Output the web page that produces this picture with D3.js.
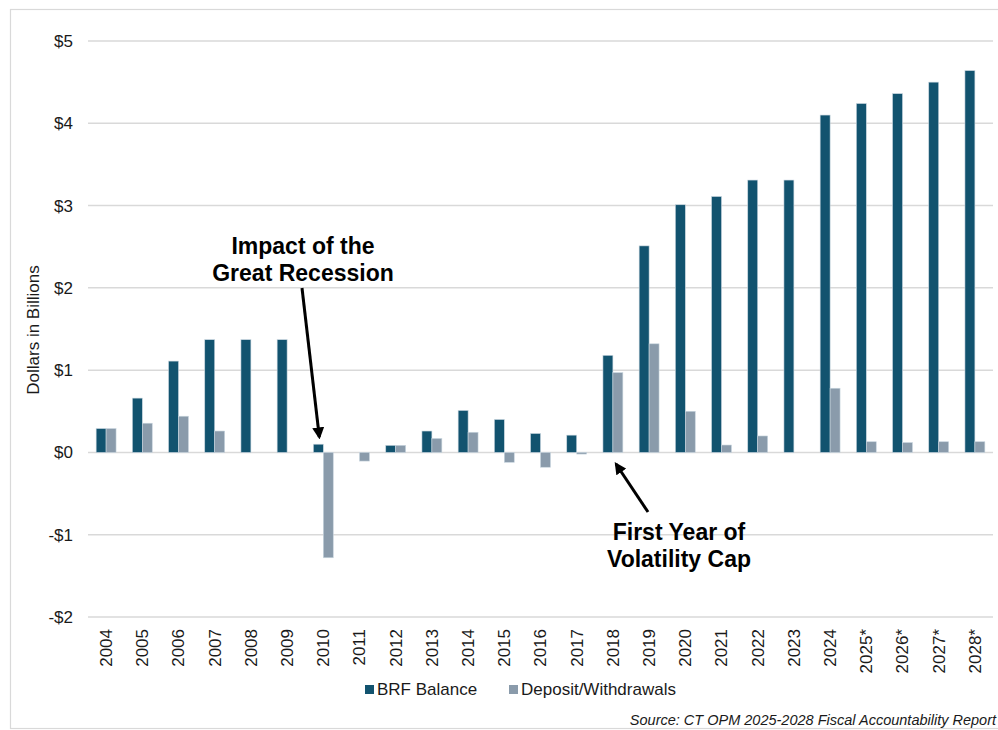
<!DOCTYPE html>
<html>
<head>
<meta charset="utf-8">
<script src="https://cdn.jsdelivr.net/npm/d3@7"></script>
<style>
  body { margin: 0; background: #fff; }
  svg { display: block; font-family: "Liberation Sans", Arial, sans-serif; }
</style>
</head>
<body>
<div id="chart"></div>
<script>
// Data (billions of dollars)
const years = ["2004", "2005", "2006", "2007", "2008", "2009", "2010", "2011", "2012", "2013",
  "2014", "2015", "2016", "2017", "2018", "2019", "2020", "2021", "2022", "2023", "2024",
  "2025*", "2026*", "2027*", "2028*"];
const brfBalance = [0.29, 0.66, 1.11, 1.37, 1.37, 1.37, 0.10, 0, 0.086, 0.26,
  0.51, 0.40, 0.23, 0.21, 1.18, 2.51, 3.01, 3.11, 3.31, 3.31, 4.10,
  4.24, 4.36, 4.50, 4.64];
const deposits = [0.29, 0.355, 0.44, 0.26, 0, 0, -1.28, -0.105, 0.086, 0.17,
  0.245, -0.12, -0.18, -0.02, 0.97, 1.32, 0.50, 0.09, 0.20, 0, 0.78,
  0.13, 0.12, 0.13, 0.13];
const yTicks = [-2, -1, 0, 1, 2, 3, 4, 5];
const seriesNames = ["BRF Balance", "Deposit/Withdrawals"];
const colors = ["#12536f", "#8a9bab"];

const W = 998, H = 730;
const svg = d3.select("#chart").append("svg").attr("width", W).attr("height", H);

// Outer frame
svg.append("rect")
  .attr("x", 10.5).attr("y", 9.5)
  .attr("width", 1000).attr("height", 719)
  .attr("fill", "none").attr("stroke", "#d9d9d9").attr("stroke-width", 1.2);

// Scales
const x = d3.scaleBand().domain(years).range([88, 993]).paddingInner(0.45).paddingOuter(0.225);
const x1 = d3.scaleBand().domain(seriesNames).range([0, x.bandwidth()]);
const y = d3.scaleLinear().domain([-2, 5]).range([617, 41]);

// Gridlines
svg.append("g")
  .selectAll("line")
  .data(yTicks)
  .enter()
  .append("line")
  .attr("x1", 88).attr("x2", 993)
  .attr("y1", (d) => y(d)).attr("y2", (d) => y(d))
  .attr("stroke", "#d9d9d9").attr("stroke-width", 1.5);

// Y axis labels
svg.append("g")
  .attr("transform", "translate(73,0)")
  .call(d3.axisLeft(y).tickValues(yTicks).tickSize(0).tickPadding(0)
    .tickFormat((d) => (d < 0 ? "-$" + Math.abs(d) : "$" + d)))
  .call((g) => g.select(".domain").remove())
  .selectAll("text")
  .attr("font-size", "17px")
  .attr("font-family", "Liberation Sans, Arial, sans-serif")
  .attr("fill", "#1a1a1a");

// Y axis title
svg.append("text")
  .attr("transform", "translate(39,330) rotate(-90)")
  .attr("text-anchor", "middle")
  .attr("font-size", "17px")
  .attr("fill", "#1a1a1a")
  .text("Dollars in Billions");

// X axis labels
svg.append("g")
  .attr("transform", "translate(0,629)")
  .call(d3.axisBottom(x).tickSize(0).tickPadding(0))
  .call((g) => g.select(".domain").remove())
  .selectAll("text")
  .attr("font-size", "17px")
  .attr("font-family", "Liberation Sans, Arial, sans-serif")
  .attr("fill", "#1a1a1a")
  .attr("transform", "rotate(-90)")
  .attr("x", 0).attr("y", 0).attr("dy", "0.35em")
  .style("text-anchor", "end");

// Bars
const rows = years.map((yr, i) => ({ year: yr, values: [brfBalance[i], deposits[i]] }));
const groups = svg.append("g")
  .selectAll("g")
  .data(rows)
  .enter()
  .append("g")
  .attr("transform", (d) => `translate(${x(d.year)},0)`);

groups.selectAll("rect")
  .data((d) => d.values.map((v, k) => ({ key: seriesNames[k], value: v, k: k })))
  .enter()
  .filter((d) => d.value !== 0)
  .append("rect")
  .attr("x", (d) => x1(d.key))
  .attr("y", (d) => y(Math.max(0, d.value)))
  .attr("width", x1.bandwidth())
  .attr("height", (d) => Math.abs(y(d.value) - y(0)))
  .attr("fill", (d) => colors[d.k])
  .attr("stroke", "#c9d6df")
  .attr("stroke-width", 0.6);

// Arrow marker
svg.append("defs").append("marker")
  .attr("id", "arrow")
  .attr("viewBox", "0 0 10 10")
  .attr("refX", 8).attr("refY", 5)
  .attr("markerWidth", 4).attr("markerHeight", 4)
  .attr("orient", "auto")
  .append("path")
  .attr("d", "M0,0 L10,5 L0,10 Z")
  .attr("fill", "#000");

// Annotations
function note(lines, cx, baseline) {
  svg.append("text")
    .attr("text-anchor", "middle")
    .attr("font-size", "23px")
    .attr("font-weight", "bold")
    .attr("fill", "#000")
    .selectAll("tspan")
    .data(lines)
    .enter()
    .append("tspan")
    .attr("x", cx)
    .attr("y", (d, i) => baseline + i * 27)
    .text((d) => d);
}
note(["Impact of the", "Great Recession"], 303, 254);
note(["First Year of", "Volatility Cap"], 679, 540);

svg.append("line")
  .attr("x1", 302).attr("y1", 288)
  .attr("x2", x("2010") + x1("BRF Balance") + x1.bandwidth() / 2 + 1).attr("y2", 437)
  .attr("stroke", "#000").attr("stroke-width", 3)
  .attr("marker-end", "url(#arrow)");

svg.append("line")
  .attr("x1", 648).attr("y1", 512)
  .attr("x2", 616).attr("y2", 464)
  .attr("stroke", "#000").attr("stroke-width", 3)
  .attr("marker-end", "url(#arrow)");

// Legend
const legendX = [365, 509];
const legend = svg.append("g")
  .selectAll("g")
  .data(seriesNames)
  .enter()
  .append("g")
  .attr("transform", (d, i) => `translate(${legendX[i]},685)`);
legend.append("rect")
  .attr("width", 9).attr("height", 9)
  .attr("fill", (d, i) => colors[i]);
legend.append("text")
  .attr("x", 12).attr("y", 10)
  .attr("font-size", "17px")
  .attr("fill", "#1a1a1a")
  .text((d) => d);

// Source
svg.append("text")
  .attr("x", 996).attr("y", 725)
  .attr("text-anchor", "end")
  .attr("font-size", "14.5px")
  .attr("font-style", "italic")
  .attr("fill", "#1a1a1a")
  .text("Source: CT OPM 2025-2028 Fiscal Accountability Report");
</script>
</body>
</html>
